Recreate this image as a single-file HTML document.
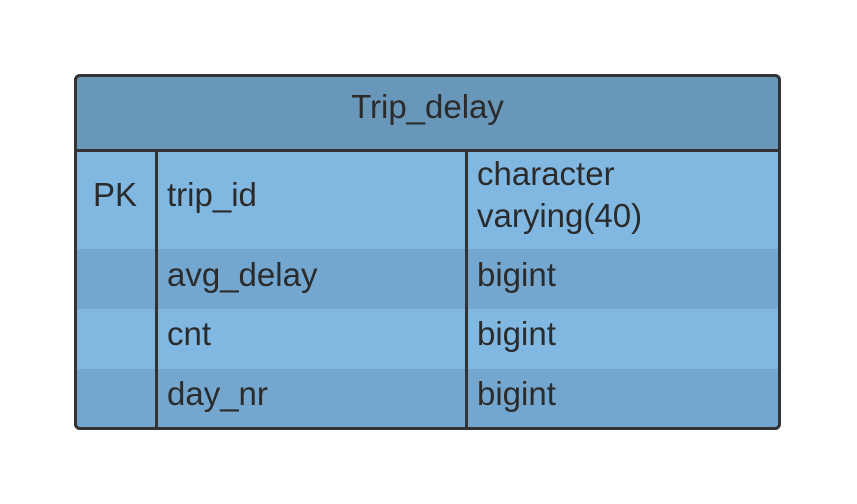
<!DOCTYPE html>
<html><head><style>
body{margin:0;width:857px;height:504px;background:#fff;position:relative;overflow:hidden;font-family:"Liberation Sans",sans-serif;color:#2b2b2b}
div{position:absolute;box-sizing:border-box}
.t{font-size:33px;line-height:38px;white-space:nowrap}
</style></head><body>
<div style="left:74px;top:74px;width:707px;height:356px;border-radius:6px;overflow:hidden;background:#80b8e2">
 <div style="left:0;top:0;width:707px;height:77px;background:#6897ba"></div>
 <div style="left:0;top:175px;width:707px;height:60px;background:#74a7cf"></div>
 <div style="left:0;top:295px;width:707px;height:61px;background:#74a7cf"></div>
</div>
<div style="left:74px;top:149px;width:707px;height:3px;background:#333"></div>
<div style="left:155px;top:150px;width:3px;height:280px;background:#333"></div>
<div style="left:465px;top:150px;width:3px;height:280px;background:#333"></div>
<div style="left:74px;top:74px;width:707px;height:356px;border:3px solid #333;border-radius:6px"></div>
<div class="t" style="left:74px;top:88px;width:707px;text-align:center">Trip_delay</div>
<div class="t" style="left:93px;top:176px">PK</div>
<div class="t" style="left:167px;top:176px">trip_id</div>
<div class="t" style="left:477px;top:155px">character</div>
<div class="t" style="left:477px;top:197px">varying(40)</div>
<div class="t" style="left:167px;top:256px">avg_delay</div>
<div class="t" style="left:477px;top:256px">bigint</div>
<div class="t" style="left:167px;top:315px">cnt</div>
<div class="t" style="left:477px;top:315px">bigint</div>
<div class="t" style="left:167px;top:375px">day_nr</div>
<div class="t" style="left:477px;top:375px">bigint</div>
</body></html>
